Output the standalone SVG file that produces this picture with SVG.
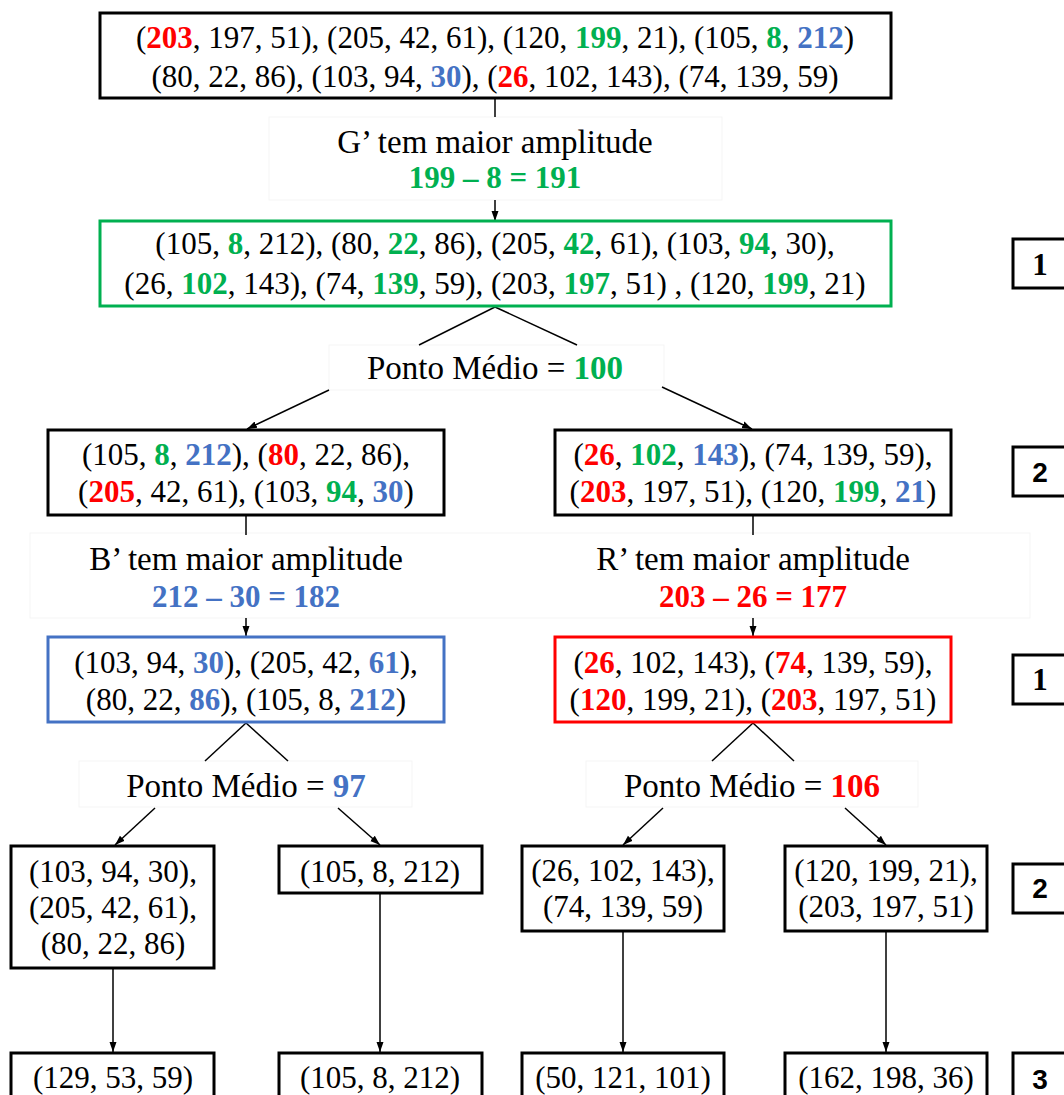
<svg xmlns="http://www.w3.org/2000/svg" width="1064" height="1095" viewBox="0 0 1064 1095">
  <defs>
    <marker id="arrow" markerUnits="userSpaceOnUse" markerWidth="10" markerHeight="10" viewBox="0 0 10 10" refX="10" refY="5" orient="auto">
      <path d="M0,1.5 L10,5 L0,8.5 Z" fill="#000"/>
    </marker>
    <style>
      .box { fill: #fff; stroke: #000; stroke-width: 3; }
      .box.green { stroke: #00B050; }
      .box.blue { stroke: #4472C4; }
      .box.red { stroke: #FF0000; }
      .lblbg { fill: #fff; stroke: #f5f5f5; stroke-width: 1; }
      .t { font-family: "Liberation Serif", "Times New Roman", serif; font-size: 31px; fill: #000; text-anchor: middle; }
      .lbl { font-size: 33px; }
      .num { font-family: "Liberation Serif", serif; font-size: 31px; font-weight: bold; fill: #000; text-anchor: middle; }
      .nums { font-family: "Liberation Sans", Arial, sans-serif; font-size: 28px; font-weight: bold; fill: #000; text-anchor: middle; }
      .r { fill: #FF0000; font-weight: bold; }
      .g { fill: #00B050; font-weight: bold; }
      .b { fill: #4472C4; font-weight: bold; }
      .conn { stroke: #000; stroke-width: 1.5; fill: none; }
    </style>
  </defs>

  <rect width="1064" height="1095" fill="#fff"/>

  <!-- label backgrounds -->
  <g id="label-backgrounds">
    <rect class="lblbg" x="269" y="117" width="453" height="83"/>
    <rect class="lblbg" x="329" y="345" width="335" height="45"/>
    <rect class="lblbg" x="30" y="533" width="1000" height="85"/>
    <rect class="lblbg" x="79" y="761" width="333" height="46"/>
    <rect class="lblbg" x="586" y="761" width="332" height="46"/>
  </g>

  <!-- connectors -->
  <g id="connectors">
    <line class="conn" x1="495" y1="98" x2="495" y2="117"/>
    <line class="conn" x1="495" y1="200" x2="495" y2="221" marker-end="url(#arrow)"/>
    <line class="conn" x1="495" y1="307" x2="419" y2="345"/>
    <line class="conn" x1="495" y1="307" x2="577" y2="345"/>
    <line class="conn" x1="329" y1="390" x2="247" y2="429" marker-end="url(#arrow)"/>
    <line class="conn" x1="662" y1="387" x2="752" y2="429" marker-end="url(#arrow)"/>

    <line class="conn" x1="246" y1="515" x2="246" y2="535"/>
    <line class="conn" x1="246" y1="618" x2="246" y2="636" marker-end="url(#arrow)"/>
    <line class="conn" x1="753" y1="515" x2="753" y2="535"/>
    <line class="conn" x1="753" y1="618" x2="753" y2="636" marker-end="url(#arrow)"/>

    <line class="conn" x1="246" y1="723" x2="205" y2="761"/>
    <line class="conn" x1="246" y1="723" x2="288" y2="761"/>
    <line class="conn" x1="155" y1="808" x2="115" y2="845" marker-end="url(#arrow)"/>
    <line class="conn" x1="338" y1="808" x2="380" y2="845" marker-end="url(#arrow)"/>

    <line class="conn" x1="753" y1="723" x2="712" y2="761"/>
    <line class="conn" x1="753" y1="723" x2="794" y2="761"/>
    <line class="conn" x1="663" y1="808" x2="623" y2="845" marker-end="url(#arrow)"/>
    <line class="conn" x1="845" y1="808" x2="886" y2="845" marker-end="url(#arrow)"/>

    <line class="conn" x1="113" y1="968" x2="113" y2="1052" marker-end="url(#arrow)"/>
    <line class="conn" x1="380" y1="893" x2="380" y2="1052" marker-end="url(#arrow)"/>
    <line class="conn" x1="623" y1="931" x2="623" y2="1052" marker-end="url(#arrow)"/>
    <line class="conn" x1="886" y1="931" x2="886" y2="1052" marker-end="url(#arrow)"/>
  </g>

  <!-- all colours -->
  <g id="node-all">
    <rect class="box" x="100" y="13" width="791" height="85"/>
    <text class="t" x="495" y="48">(<tspan class="r">203</tspan>, 197, 51), (205, 42, 61), (120, <tspan class="g">199</tspan>, 21), (105, <tspan class="g">8</tspan>, <tspan class="b">212</tspan>)</text>
    <text class="t" x="495" y="87">(80, 22, 86), (103, 94, <tspan class="b">30</tspan>), (<tspan class="r">26</tspan>, 102, 143), (74, 139, 59)</text>
  </g>

  <g id="label-g">
    <text class="t lbl" x="495" y="153">G’ tem maior amplitude</text>
    <text class="t g" x="495" y="188">199 – 8 = 191</text>
  </g>

  <g id="node-sorted-g">
    <rect class="box green" x="100" y="221" width="791" height="85"/>
    <text class="t" x="495" y="254">(105, <tspan class="g">8</tspan>, 212), (80, <tspan class="g">22</tspan>, 86), (205, <tspan class="g">42</tspan>, 61), (103, <tspan class="g">94</tspan>, 30),</text>
    <text class="t" x="495" y="294">(26, <tspan class="g">102</tspan>, 143), (74, <tspan class="g">139</tspan>, 59), (203, <tspan class="g">197</tspan>, 51) , (120, <tspan class="g">199</tspan>, 21)</text>
  </g>

  <g id="label-mid-100">
    <text class="t lbl" x="495" y="379">Ponto Médio = <tspan class="g">100</tspan></text>
  </g>

  <g id="node-left">
    <rect class="box" x="48" y="430" width="396" height="85"/>
    <text class="t" x="246" y="465">(105, <tspan class="g">8</tspan>, <tspan class="b">212</tspan>), (<tspan class="r">80</tspan>, 22, 86),</text>
    <text class="t" x="246" y="502">(<tspan class="r">205</tspan>, 42, 61), (103, <tspan class="g">94</tspan>, <tspan class="b">30</tspan>)</text>
  </g>

  <g id="node-right">
    <rect class="box" x="555" y="430" width="396" height="85"/>
    <text class="t" x="753" y="465">(<tspan class="r">26</tspan>, <tspan class="g">102</tspan>, <tspan class="b">143</tspan>), (74, 139, 59),</text>
    <text class="t" x="753" y="502">(<tspan class="r">203</tspan>, 197, 51), (120, <tspan class="g">199</tspan>, <tspan class="b">21</tspan>)</text>
  </g>

  <g id="label-b">
    <text class="t lbl" x="246" y="570">B’ tem maior amplitude</text>
    <text class="t b" x="246" y="607">212 – 30 = 182</text>
  </g>

  <g id="label-r">
    <text class="t lbl" x="753" y="570">R’ tem maior amplitude</text>
    <text class="t r" x="753" y="607">203 – 26 = 177</text>
  </g>

  <g id="node-sorted-b">
    <rect class="box blue" x="48" y="637" width="396" height="85"/>
    <text class="t" x="246" y="673">(103, 94, <tspan class="b">30</tspan>), (205, 42, <tspan class="b">61</tspan>),</text>
    <text class="t" x="246" y="710">(80, 22, <tspan class="b">86</tspan>), (105, 8, <tspan class="b">212</tspan>)</text>
  </g>

  <g id="node-sorted-r">
    <rect class="box red" x="555" y="637" width="396" height="85"/>
    <text class="t" x="753" y="673">(<tspan class="r">26</tspan>, 102, 143), (<tspan class="r">74</tspan>, 139, 59),</text>
    <text class="t" x="753" y="710">(<tspan class="r">120</tspan>, 199, 21), (<tspan class="r">203</tspan>, 197, 51)</text>
  </g>

  <g id="label-mid-97">
    <text class="t lbl" x="246" y="797">Ponto Médio = <tspan class="b">97</tspan></text>
  </g>
  <g id="label-mid-106">
    <text class="t lbl" x="752" y="797">Ponto Médio = <tspan class="r">106</tspan></text>
  </g>

  <g id="node-leaf-1">
    <rect class="box" x="11" y="846" width="203" height="122"/>
    <text class="t" x="113" y="882">(103, 94, 30),</text>
    <text class="t" x="113" y="918">(205, 42, 61),</text>
    <text class="t" x="113" y="954">(80, 22, 86)</text>
  </g>
  <g id="node-leaf-2">
    <rect class="box" x="279" y="846" width="203" height="47"/>
    <text class="t" x="380" y="882">(105, 8, 212)</text>
  </g>
  <g id="node-leaf-3">
    <rect class="box" x="522" y="846" width="202" height="85"/>
    <text class="t" x="623" y="881">(26, 102, 143),</text>
    <text class="t" x="623" y="917">(74, 139, 59)</text>
  </g>
  <g id="node-leaf-4">
    <rect class="box" x="785" y="846" width="202" height="85"/>
    <text class="t" x="886" y="881">(120, 199, 21),</text>
    <text class="t" x="886" y="917">(203, 197, 51)</text>
  </g>

  <g id="node-mean-1">
    <rect class="box" x="11" y="1053" width="203" height="60"/>
    <text class="t" x="113" y="1088">(129, 53, 59)</text>
  </g>
  <g id="node-mean-2">
    <rect class="box" x="279" y="1053" width="203" height="60"/>
    <text class="t" x="380" y="1088">(105, 8, 212)</text>
  </g>
  <g id="node-mean-3">
    <rect class="box" x="522" y="1053" width="202" height="60"/>
    <text class="t" x="623" y="1088">(50, 121, 101)</text>
  </g>
  <g id="node-mean-4">
    <rect class="box" x="785" y="1053" width="202" height="60"/>
    <text class="t" x="886" y="1088">(162, 198, 36)</text>
  </g>

  <!-- step markers -->
  <g id="step-1a">
    <rect class="box" x="1013" y="239" width="70" height="49"/>
    <text class="num" x="1040" y="275">1</text>
  </g>
  <g id="step-2a">
    <rect class="box" x="1013" y="447" width="70" height="49"/>
    <text class="nums" x="1040" y="482">2</text>
  </g>
  <g id="step-1b">
    <rect class="box" x="1013" y="655" width="70" height="49"/>
    <text class="num" x="1040" y="690">1</text>
  </g>
  <g id="step-2b">
    <rect class="box" x="1013" y="864" width="70" height="49"/>
    <text class="nums" x="1040" y="898">2</text>
  </g>
  <g id="step-3">
    <rect class="box" x="1013" y="1053" width="70" height="60"/>
    <text class="nums" x="1040" y="1089">3</text>
  </g>
</svg>
